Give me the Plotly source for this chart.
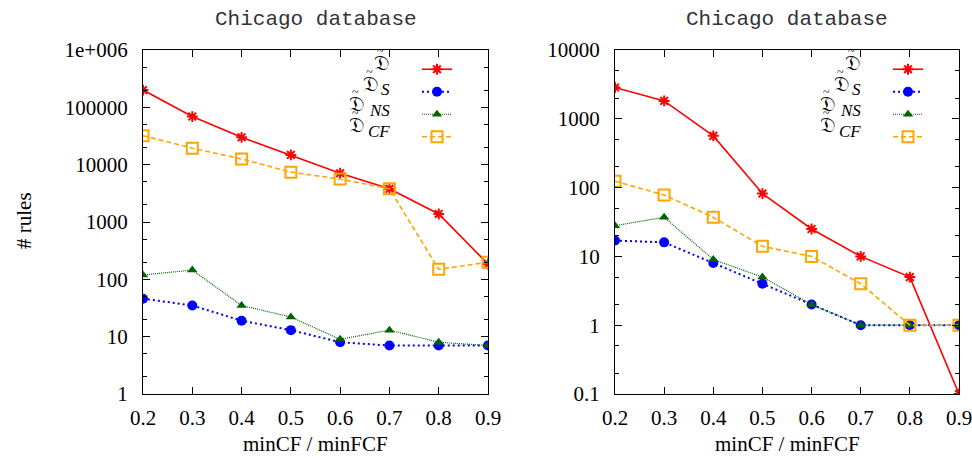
import plotly.graph_objects as go

x_vals = [0.2, 0.3, 0.4, 0.5, 0.6, 0.7, 0.8, 0.9]

left_D = [200000, 69000, 30000, 14800, 7100, 3800, 1380, 185]
left_S = [46, 35, 19, 13, 8, 7, 7, 7]
left_NS = [119, 145, 35, 22, 9, 13, 8, 7]
left_CF = [32000, 19400, 12600, 7400, 5600, 3800, 150, 198]

right_D = [2850, 1820, 565, 82, 25, 10, 5, 0.1]
right_S = [17, 16, 8, 4, 2, 1, 1, 1]
right_NS = [28, 37, 9, 5, 2, 1, 1, 1]
right_CF = [124, 78, 37, 14, 10, 4, 1, 1]

left_ytickvals = [1, 10, 100, 1000, 10000, 100000, 1000000]
left_yticktext = ["1", "10", "100", "1000", "10000", "100000", "1e+006"]
right_ytickvals = [0.1, 1, 10, 100, 1000, 10000]
right_yticktext = ["0.1", "1", "10", "100", "1000", "10000"]
x_ticktext = ["0.2", "0.3", "0.4", "0.5", "0.6", "0.7", "0.8", "0.9"]

series_base = "𝔇"
series_subs = ["", "S", "NS", "CF"]
title_text = "Chicago database"
xtitle_text = "minCF / minFCF"
ytitle_text = "# rules"

W, H = 972, 458
styles = [
    dict(line=dict(color="#FF0000", width=1.6, dash="solid"),
         marker=dict(symbol="asterisk-open", size=9, color="#FF0000", line=dict(color="#FF0000", width=2))),
    dict(line=dict(color="#0000FF", width=2, dash="2px,3px"),
         marker=dict(symbol="circle", size=10, color="#0000FF")),
    dict(line=dict(color="#006400", width=1.2, dash="1px,1px"),
         marker=dict(symbol="triangle-up", size=9, color="#006400")),
    dict(line=dict(color="#FFA500", width=1.6, dash="5px,3px"),
         marker=dict(symbol="square-open", size=11, color="#FFA500", line=dict(color="#FFA500", width=2))),
]

fig = go.Figure()
for panel, (data, xa, ya, lg) in enumerate([
    ([left_D, left_S, left_NS, left_CF], "x", "y", "legend"),
    ([right_D, right_S, right_NS, right_CF], "x2", "y2", "legend2"),
]):
    for i, ys in enumerate(data):
        fig.add_trace(go.Scatter(
            x=x_vals, y=ys, mode="lines+markers", name=" ",
            xaxis=xa, yaxis=ya, legend=lg, showlegend=True,
            line=styles[i]["line"], marker=styles[i]["marker"],
        ))

serif = "Liberation Serif, Times New Roman, serif"
axis_common = dict(
    showline=True, linecolor="black", linewidth=1.2, mirror="ticks",
    ticks="inside", ticklen=7, tickcolor="black", tickwidth=1,
    showgrid=False, zeroline=False, ticklabeloverflow="allow",
    tickfont=dict(family=serif, size=21, color="black"),
)

x1dom = [143 / W, 488 / W]
x2dom = [615 / W, 959 / W]
ydom = [1 - 394 / H, 1 - 50 / H]

fig.update_layout(
    width=W, height=H,
    margin=dict(l=0, r=0, t=0, b=0, autoexpand=False),
    plot_bgcolor="white", paper_bgcolor="white",
    xaxis=dict(domain=x1dom, range=[0.2, 0.9], tickvals=x_vals, ticktext=x_ticktext,
               anchor="y", ticklabelstandoff=5, **axis_common),
    yaxis=dict(domain=ydom, type="log", range=[0, 6], tickvals=left_ytickvals,
               ticktext=left_yticktext, anchor="x", ticklabelstandoff=10,
               minor=dict(ticks="inside", ticklen=4, dtick="D2", tickcolor="black"),
               **axis_common),
    xaxis2=dict(domain=x2dom, range=[0.2, 0.9], tickvals=x_vals, ticktext=x_ticktext,
                anchor="y2", ticklabelstandoff=5, **axis_common),
    yaxis2=dict(domain=ydom, type="log", range=[-1, 4], tickvals=right_ytickvals,
                ticktext=right_yticktext, anchor="x2", ticklabelstandoff=10,
                minor=dict(ticks="inside", ticklen=4, dtick="D2", tickcolor="black"),
                **axis_common),
    legend=dict(x=466 / W, xanchor="right", y=1 - 53 / H, yanchor="top",
                bgcolor="rgba(0,0,0,0)", font=dict(size=15), itemwidth=30,
                tracegroupgap=0),
    legend2=dict(x=937 / W, xanchor="right", y=1 - 53 / H, yanchor="top",
                 bgcolor="rgba(0,0,0,0)", font=dict(size=15), itemwidth=30,
                 tracegroupgap=0),
)

ann = []
mono = "Liberation Mono, Courier New, monospace"
for cx in [(x1dom[0] + x1dom[1]) / 2, (x2dom[0] + x2dom[1]) / 2]:
    ann.append(dict(text=title_text, x=cx, y=1 - 19 / H, xref="paper", yref="paper",
                    showarrow=False, xanchor="center", yanchor="middle",
                    font=dict(family=mono, size=21, color="#333")))
    ann.append(dict(text=xtitle_text, x=cx, y=1 - 444 / H, xref="paper", yref="paper",
                    showarrow=False, xanchor="center", yanchor="middle",
                    font=dict(family=serif, size=21, color="black")))
ann.append(dict(text=ytitle_text, x=24 / W, y=1 - 221 / H, xref="paper", yref="paper",
                showarrow=False, textangle=-90, xanchor="center", yanchor="middle",
                font=dict(family=serif, size=21, color="black")))

sub_w = [0, 11, 25, 25]
for rx in [392, 863]:
    for i, sub in enumerate(series_subs):
        yc = 63 + 20.7 * i
        d_right = rx - sub_w[i]
        ann.append(dict(text=series_base, x=d_right / W, y=1 - yc / H, xref="paper", yref="paper",
                        showarrow=False, xanchor="right", yanchor="middle",
                        font=dict(family="DejaVu Serif, serif", size=21, color="black")))
        ann.append(dict(text="~", x=(d_right - 12) / W, y=1 - (yc - 12) / H, xref="paper", yref="paper",
                        showarrow=False, xanchor="center", yanchor="middle",
                        font=dict(family=serif, size=12, color="black")))
        if sub:
            ann.append(dict(text="<i>" + sub + "</i>", x=rx / W, y=1 - (yc + 6) / H,
                            xref="paper", yref="paper",
                            showarrow=False, xanchor="right", yanchor="middle",
                            font=dict(family=serif, size=17, color="black")))
fig.update_layout(annotations=ann)

fig.write_html("out.html", config={"displayModeBar": False},
               post_script="document.body.style.margin='0';document.body.style.padding='0';")
